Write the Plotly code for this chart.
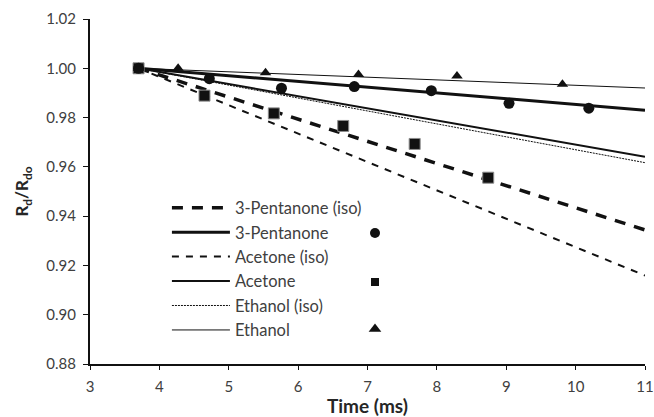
import plotly.graph_objects as go

# ---- data ----
x_range = [3, 11]
y_range = [0.88, 1.02]
x_ticks = [3, 4, 5, 6, 7, 8, 9, 10, 11]
y_ticks = [0.88, 0.90, 0.92, 0.94, 0.96, 0.98, 1.00, 1.02]

# model lines (start and end)
model_time = [3.7, 11.0]
pent_iso = [1.000, 0.9344]
pent_model = [1.000, 0.9830]
acet_iso = [1.000, 0.9159]
acet_model = [1.000, 0.9641]
eth_iso = [1.000, 0.9617]
eth_model = [1.000, 0.9920]

# measurements
time_pent = [3.7, 4.72, 5.76, 6.81, 7.92, 9.04, 10.19]
rd_pent = [1.000, 0.9958, 0.9919, 0.9926, 0.9909, 0.9858, 0.9838]
time_acet = [3.7, 4.65, 5.65, 6.65, 7.68, 8.74]
rd_acet = [1.000, 0.9889, 0.9817, 0.9766, 0.9693, 0.9556]
time_eth = [3.7, 4.27, 5.53, 6.87, 8.29, 9.81]
rd_eth = [1.000, 1.000, 0.9982, 0.9975, 0.9969, 0.9935]

legend_names = ["3-Pentanone (iso)", "3-Pentanone", "Acetone (iso)",
                "Acetone", "Ethanol (iso)", "Ethanol"]

FONT = "Lato"
TXT = "#404040"
BLK = "#111111"

fig = go.Figure()

line_specs = [
    (pent_iso, dict(color=BLK, width=3.5, dash="11px,9px")),
    (pent_model, dict(color=BLK, width=3)),
    (acet_iso, dict(color=BLK, width=2, dash="7px,7px")),
    (acet_model, dict(color=BLK, width=2)),
    (eth_iso, dict(color=BLK, width=1, dash="2px,1px")),
    (eth_model, dict(color=BLK, width=1)),
]
for i, (vals, ln) in enumerate(line_specs):
    fig.add_trace(go.Scatter(x=model_time, y=vals, mode="lines", line=ln,
                             name=legend_names[i], hoverinfo="skip"))

fig.add_trace(go.Scatter(x=time_acet, y=rd_acet, mode="markers", showlegend=False,
                         marker=dict(symbol="square", size=11, color=BLK,
                                     line=dict(color="#8c8c8c", width=1))))
fig.add_trace(go.Scatter(x=time_pent, y=rd_pent, mode="markers", showlegend=False,
                         marker=dict(symbol="circle", size=11, color=BLK)))
fig.add_trace(go.Scatter(x=time_eth, y=rd_eth, mode="markers", showlegend=False,
                         marker=dict(symbol="triangle-up", size=10, color=BLK)))

# legend key markers (right column of the legend), on an overlay paper-like axis
legend_marker_x = [0.5135, 0.5135, 0.5135]
legend_marker_y = [0.3797, 0.2377, 0.1014]
fig.add_trace(go.Scatter(x=legend_marker_x, y=legend_marker_y, mode="markers",
                         xaxis="x2", yaxis="y2", showlegend=False, hoverinfo="skip",
                         marker=dict(symbol=["circle", "square", "triangle-up"],
                                     size=[10, 8, 11], color=BLK, opacity=1,
                                     line=dict(width=0))))

fig.update_layout(
    width=654, height=417,
    margin=dict(l=90, r=9, t=19, b=53, autoexpand=False),
    paper_bgcolor="white", plot_bgcolor="white",
    font=dict(family=FONT, color=TXT, size=12),
    showlegend=True,
    legend=dict(x=0.1386, y=0.503, xanchor="left", yanchor="top",
                bgcolor="rgba(0,0,0,0)", font=dict(size=16.5, color=TXT),
                itemwidth=58),
    xaxis=dict(range=x_range, tickvals=x_ticks, showgrid=False, zeroline=False,
               automargin=False,
               showline=True, linecolor=BLK, linewidth=2,
               ticks="outside", ticklen=4, tickcolor=BLK, tickwidth=1,
               ticklabelstandoff=4,
               tickfont=dict(family=FONT, size=15, color=TXT),
               title=dict(text="<b>Time (ms)</b>", standoff=12,
                          font=dict(family=FONT, size=19, color="#262626"))),
    yaxis=dict(range=y_range, tickvals=y_ticks, tickformat=".2f",
               showgrid=False, zeroline=False, automargin=False,
               showline=True, linecolor=BLK, linewidth=2,
               ticks="outside", ticklen=5, tickcolor=BLK, tickwidth=1,
               ticklabelstandoff=4,
               tickfont=dict(family=FONT, size=15, color=TXT),
               title=dict(text="<b>R<sub>d</sub>/R<sub>do</sub></b>", standoff=13,
                          font=dict(family=FONT, size=17, color="#262626"))),
    xaxis2=dict(overlaying="x", range=[0, 1], visible=False),
    yaxis2=dict(overlaying="y", range=[0, 1], visible=False),
)

fig.write_html("out.html", config={"displayModeBar": False},
               post_script="document.body.style.margin='0';")
